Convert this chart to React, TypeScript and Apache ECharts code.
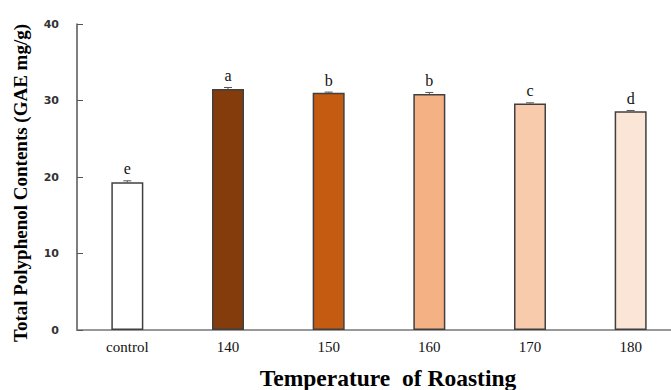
import React, { useEffect, useRef } from "react";
import * as echarts from "echarts";

const categories = ["control", "140", "150", "160", "170", "180"];
const values = [19.3, 31.5, 31.0, 30.85, 29.6, 28.6];
const errors = [0.2, 0.2, 0.1, 0.2, 0.1, 0.1];
const letters = ["e", "a", "b", "b", "c", "d"];
const colors = ["#FFFFFF", "#843C0C", "#C55A11", "#F4B183", "#F8CBAD", "#FBE5D6"];
const yTicks = [0, 10, 20, 30, 40];

export default function App() {
  const ref = useRef<HTMLDivElement>(null);
  useEffect(() => {
    if (!ref.current) return;
    const chart = echarts.init(ref.current, null, { renderer: "svg" });
    chart.setOption({
      animation: false,
      backgroundColor: "#FFFFFF",
      grid: {
        left: 77,
        top: 24,
        bottom: 60,
        width: 604,
        containLabel: false,
        outerBoundsMode: "none",
      },
      xAxis: {
        type: "category",
        data: categories,
        boundaryGap: true,
        axisLine: { lineStyle: { color: "#777777", width: 1.5 } },
        axisTick: { inside: true, length: 3, lineStyle: { color: "#333333" } },
        axisLabel: { fontFamily: "Liberation Serif", fontSize: 15, color: "#111111", margin: 9 },
      },
      yAxis: {
        type: "value",
        min: yTicks[0],
        max: yTicks[yTicks.length - 1],
        interval: 10,
        splitLine: { show: false },
        axisLine: { show: true, lineStyle: { color: "#555555", width: 1.5 } },
        axisTick: { show: true, inside: true, length: 6, lineStyle: { color: "#555555" } },
        axisLabel: { fontFamily: "DejaVu Sans", fontWeight: "bold", fontSize: 11, color: "#333333", margin: 18 },
      },
      series: [
        {
          type: "bar",
          barWidth: 32,
          data: values.map((v, i) => ({
            value: v,
            itemStyle: { color: colors[i], borderColor: "#404040", borderWidth: 1.5 },
          })),
        },
        {
          type: "custom",
          data: values.map((v, i) => [i, v, errors[i]]),
          renderItem: (params: any, api: any) => {
            const x = api.value(0);
            const v = api.value(1);
            const e = api.value(2);
            const top = api.coord([x, v + e]);
            const base = api.coord([x, v]);
            const hw = 4;
            return {
              type: "group",
              children: [
                {
                  type: "line",
                  shape: { x1: top[0], y1: top[1], x2: base[0], y2: base[1] },
                  style: { stroke: "#555555", lineWidth: 1 },
                },
                {
                  type: "line",
                  shape: { x1: top[0] - hw, y1: top[1], x2: top[0] + hw, y2: top[1] },
                  style: { stroke: "#555555", lineWidth: 1 },
                },
                {
                  type: "text",
                  style: {
                    text: letters[params.dataIndex],
                    x: top[0],
                    y: top[1] - 4,
                    align: "center",
                    verticalAlign: "bottom",
                    font: "16px 'Liberation Serif'",
                    fill: "#111111",
                  },
                },
              ],
            };
          },
          z: 5,
        },
      ],
      graphic: [
        {
          type: "text",
          x: 388,
          y: 366,
          style: {
            text: "Temperature  of Roasting",
            font: "bold 23.5px 'Liberation Serif'",
            fill: "#000000",
            align: "center",
            verticalAlign: "top",
          },
        },
        {
          type: "text",
          x: 20,
          y: 183,
          rotation: Math.PI / 2,
          style: {
            text: "Total Polyphenol Contents (GAE mg/g)",
            font: "bold 19px 'Liberation Serif'",
            fill: "#000000",
            align: "center",
            verticalAlign: "middle",
          },
        },
      ],
    });
    return () => chart.dispose();
  }, []);
  return (
    <div
      style={{
        position: "fixed",
        left: 0,
        top: 0,
        width: 671,
        height: 390,
        overflow: "hidden",
        background: "#FFFFFF",
      }}
    >
      <div ref={ref} style={{ width: 671, height: 390, overflow: "hidden" }} />
    </div>
  );
}
